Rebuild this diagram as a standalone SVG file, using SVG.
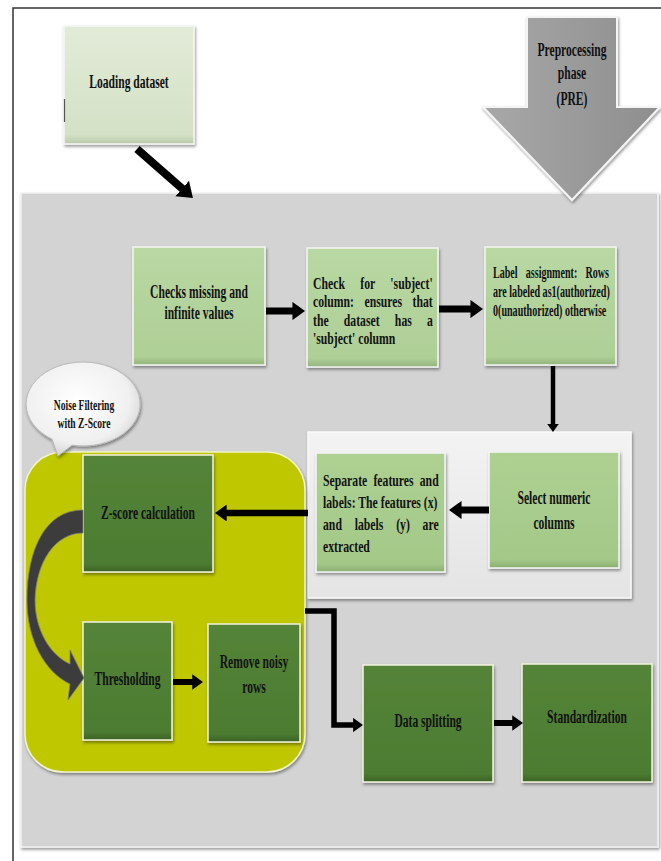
<svg xmlns="http://www.w3.org/2000/svg" width="661" height="861" viewBox="0 0 661 861">
<style>
.t{font-family:"Liberation Serif","Times New Roman",serif;font-weight:bold;font-size:19px;fill:#111}
.b{font-size:17px}
.s16{font-size:16px}
.s15{font-size:15px}
.m{text-anchor:middle}
.lg{fill:url(#gLight);stroke:#f6f6f6;stroke-width:1.5}
.lg2{fill:url(#gLight2);stroke:#f6f6f6;stroke-width:1.5}
.dg{fill:url(#gDark);stroke:#f4f4e0;stroke-width:1.5}
.cn{fill:none;stroke:#000}
</style>
<defs>
<filter id="sh" x="-10%" y="-10%" width="125%" height="125%">
<feDropShadow dx="1" dy="2" stdDeviation="1.5" flood-color="#000" flood-opacity="0.4"/>
</filter>
<linearGradient id="gLoad" x1="0" y1="0" x2="0" y2="1">
<stop offset="0" stop-color="#e2ebd8"/><stop offset="0.92" stop-color="#d4e1c6"/><stop offset="1" stop-color="#b9c8aa"/>
</linearGradient>
<linearGradient id="gLight" x1="0" y1="0" x2="0" y2="1">
<stop offset="0" stop-color="#b9d8a3"/><stop offset="0.93" stop-color="#aecf96"/><stop offset="1" stop-color="#93b37c"/>
</linearGradient>
<linearGradient id="gLight2" x1="0" y1="0" x2="0" y2="1">
<stop offset="0" stop-color="#aed192"/><stop offset="0.93" stop-color="#a3c888"/><stop offset="1" stop-color="#89ad70"/>
</linearGradient>
<linearGradient id="gDark" x1="0" y1="0" x2="0" y2="1">
<stop offset="0" stop-color="#548438"/><stop offset="0.93" stop-color="#4c7c31"/><stop offset="1" stop-color="#3a6224"/>
</linearGradient>
<linearGradient id="gPanel" x1="0" y1="0" x2="0" y2="1">
<stop offset="0" stop-color="#f3f3f3"/><stop offset="1" stop-color="#e4e4e4"/>
</linearGradient>
<linearGradient id="gPre" x1="0" y1="0" x2="1" y2="0">
<stop offset="0" stop-color="#a8a8a8"/><stop offset="1" stop-color="#8e8e8e"/>
</linearGradient>
<radialGradient id="gBub" cx="0.45" cy="0.4" r="0.65">
<stop offset="0" stop-color="#ffffff"/><stop offset="0.7" stop-color="#f0f0f0"/><stop offset="1" stop-color="#cfcfcf"/>
</radialGradient>
<marker id="ah" viewBox="0 0 10 10" refX="1" refY="5" markerWidth="1.8" markerHeight="2.6" orient="auto" preserveAspectRatio="none">
<path d="M0,0 L10,5 L0,10 Z" fill="#000"/>
</marker>
</defs>

<path d="M13,861 V8 H661" fill="none" stroke="#333" stroke-width="1.5"/>

<g id="loading">
<rect x="64" y="26" width="130" height="118" class="lg" style="fill:url(#gLoad)" filter="url(#sh)"/>
<line x1="64.5" y1="99" x2="64.5" y2="122" stroke="#555" stroke-width="1.2"/>
<text class="t m" transform="translate(129,88) scale(0.61,1)">Loading dataset</text>
</g>

<g id="panel">
<rect x="21" y="193" width="637" height="654" fill="#d3d3d3" stroke="#f2f2f2" stroke-width="1.5" filter="url(#sh)"/>
</g>

<g id="pre">
<path d="M527,17 H617 V107 H660 L572,200 L483,107 H527 Z" fill="url(#gPre)" stroke="#f4f4f4" stroke-width="2" filter="url(#sh)"/>
<text class="t m" transform="translate(572,56) scale(0.61,1)">Preprocessing</text>
<text class="t m" transform="translate(572,79) scale(0.61,1)">phase</text>
<text class="t m" transform="translate(572,105) scale(0.61,1)">(PRE)</text>
</g>

<g id="checks">
<rect x="133" y="247" width="132" height="118" class="lg" filter="url(#sh)"/>
<text class="t m" transform="translate(199,298) scale(0.61,1)">Checks missing and</text>
<text class="t m" transform="translate(199,319) scale(0.61,1)">infinite values</text>
</g>

<g id="subject">
<rect x="307" y="248" width="131" height="119" class="lg" filter="url(#sh)"/>
<text class="t b" transform="translate(313,288.5) scale(0.69,1)" word-spacing="18">Check for 'subject'</text>
<text class="t b" transform="translate(313,307) scale(0.69,1)" word-spacing="10.9">column: ensures that</text>
<text class="t b" transform="translate(313,325.5) scale(0.69,1)" word-spacing="17.8">the dataset has a</text>
<text class="t b" transform="translate(313,344) scale(0.69,1)">'subject' column</text>
</g>

<g id="label">
<rect x="485" y="247" width="131" height="118" class="lg" filter="url(#sh)"/>
<text class="t s16" transform="translate(493,277.5) scale(0.63,1)" word-spacing="9">Label assignment: Rows</text>
<text class="t s16" transform="translate(493,297) scale(0.63,1)">are labeled as1(authorized)</text>
<text class="t s16" transform="translate(493,316) scale(0.63,1)">0(unauthorized) otherwise</text>
</g>

<g id="selpanel">
<rect x="308" y="432" width="323" height="166" fill="url(#gPanel)" stroke="#fafafa" stroke-width="1.5" filter="url(#sh)"/>
</g>

<g id="separate">
<rect x="316" y="453" width="129" height="119" class="lg2" filter="url(#sh)"/>
<text class="t b" transform="translate(323,486) scale(0.69,1)" word-spacing="4.7">Separate features and</text>
<text class="t b" transform="translate(323,508) scale(0.69,1)">labels: The features (x)</text>
<text class="t b" transform="translate(323,530) scale(0.69,1)" word-spacing="14.3">and labels (y) are</text>
<text class="t b" transform="translate(323,552) scale(0.69,1)">extracted</text>
</g>

<g id="numeric">
<rect x="489" y="452" width="130" height="116" class="lg2" filter="url(#sh)"/>
<text class="t m" transform="translate(554,504) scale(0.61,1)">Select numeric</text>
<text class="t m" transform="translate(554,529) scale(0.61,1)">columns</text>
</g>

<g id="noise">
<rect x="25" y="452" width="280" height="320" rx="38" ry="38" fill="#bec700" stroke="#f2f5c8" stroke-width="1.5" filter="url(#sh)"/>
</g>

<g id="callout">
<path d="M72,445.2 L58,456 L52,439.2 A57,42 0 1 1 72,445.2 Z" fill="url(#gBub)" stroke="#b8b8b8" stroke-width="1" filter="url(#sh)"/>
<text class="t s15 m" transform="translate(84,410) scale(0.64,1)">Noise Filtering</text>
<text class="t s15 m" transform="translate(84,428) scale(0.64,1)">with Z-Score</text>
</g>

<g id="zscore">
<rect x="83" y="455" width="130" height="117" class="dg" filter="url(#sh)"/>
<text class="t m" transform="translate(148,519) scale(0.61,1)">Z-score calculation</text>
</g>

<g id="threshold">
<rect x="83" y="622" width="89" height="118" class="dg" filter="url(#sh)"/>
<text class="t m" transform="translate(127.5,685) scale(0.61,1)">Thresholding</text>
</g>

<g id="remove">
<rect x="208" y="624" width="92" height="118" class="dg" filter="url(#sh)"/>
<text class="t m" transform="translate(254,668) scale(0.61,1)">Remove noisy</text>
<text class="t m" transform="translate(254,693) scale(0.61,1)">rows</text>
</g>

<g id="split">
<rect x="363" y="665" width="130" height="117" class="dg" filter="url(#sh)"/>
<text class="t m" transform="translate(428,727) scale(0.61,1)">Data splitting</text>
</g>

<g id="standard">
<rect x="522" y="664" width="130" height="118" class="dg" filter="url(#sh)"/>
<text class="t m" transform="translate(587,723) scale(0.61,1)">Standardization</text>
</g>

<g id="connectors">
<path class="cn" d="M137,149 L183.2,189.5" stroke-width="8" marker-end="url(#ah)"/>
<path class="cn" d="M266,311 H293.7" stroke-width="7" marker-end="url(#ah)"/>
<path class="cn" d="M439,309 H471.7" stroke-width="7" marker-end="url(#ah)"/>
<path class="cn" d="M553,366 V424.7" stroke-width="4.5" marker-end="url(#ah)"/>
<path class="cn" d="M489,510 H460.3" stroke-width="7" marker-end="url(#ah)"/>
<path class="cn" d="M308,513 H225.5" stroke-width="6.5" marker-end="url(#ah)"/>
<path class="cn" d="M173,682 H193.3" stroke-width="6" marker-end="url(#ah)"/>
<path class="cn" d="M494,723 H513.3" stroke-width="6" marker-end="url(#ah)"/>
<path class="cn" d="M305,611 H334 V725 H354.1" stroke-width="5.5" marker-end="url(#ah)"/>
<path d="M83,510 C45,510 27,550 27,600 C27,640 45,672 70,684 L68,700 L84,678 L70,650 L70,664 C50,655 35,630 35,600 C36,562 55,533 83,533 Z" fill="#3c3c3c" stroke="#7a7a7a" stroke-width="0.8"/>
</g>
</svg>
